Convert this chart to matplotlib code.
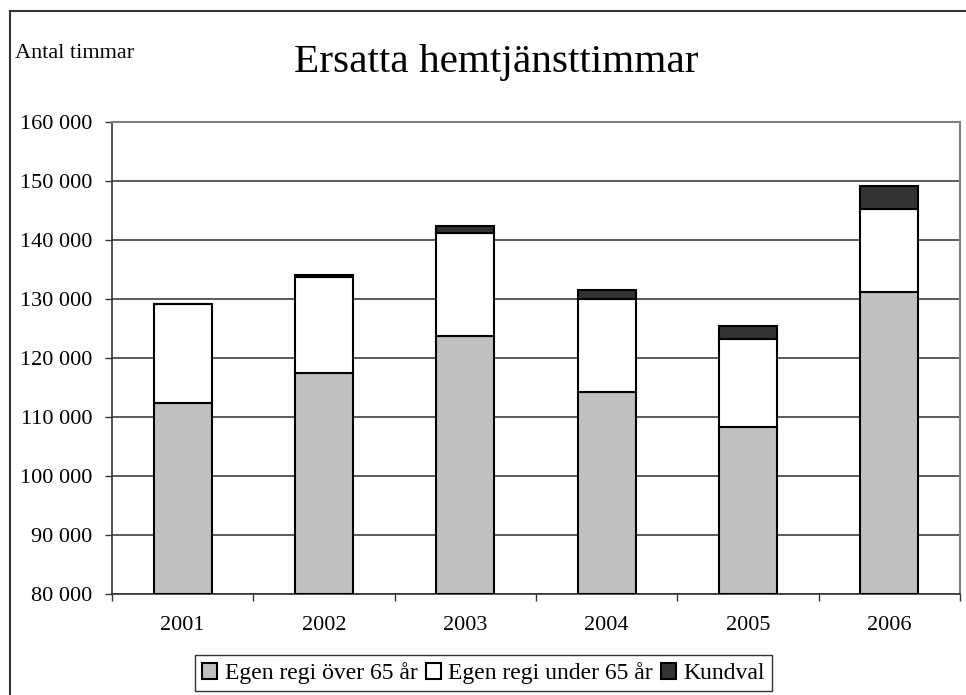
import matplotlib
matplotlib.use("Agg")
import matplotlib.pyplot as plt
from matplotlib.lines import Line2D
from matplotlib.ticker import FixedLocator, FuncFormatter
import numpy as np

years = ["2001", "2002", "2003", "2004", "2005", "2006"]
over65 = [112400, 117500, 123700, 114200, 108300, 131200]
under65 = [16700, 16200, 17500, 15800, 14950, 14100]
kundval = [0, 450, 1100, 1500, 2150, 3800]
series_names = ["Egen regi över 65 år", "Egen regi under 65 år", "Kundval"]
title = "Ersatta hemtjänsttimmar"
ylabel = "Antal timmar"

plt.rcParams["font.family"] = ["Liberation Serif", "DejaVu Serif"]

W, H = 966, 695
fig = plt.figure(figsize=(W / 100, H / 100), dpi=100)
ax = fig.add_axes([112 / W, (H - 594) / H, (960 - 112) / W, (594 - 122) / H])

x = np.arange(len(years))
bw = 0.41
base = np.full(len(years), 80000.0)
ov = np.array(over65, float)
un = np.array(under65, float)
kv = np.array(kundval, float)
colors = ["#c0c0c0", "#ffffff", "#333333"]
ax.bar(x, ov - 80000, bw, bottom=base, color=colors[0], edgecolor="black", linewidth=1.5, zorder=3, label=series_names[0])
ax.bar(x, un, bw, bottom=ov, color=colors[1], edgecolor="black", linewidth=1.5, zorder=3, label=series_names[1])
ax.bar(x, kv, bw, bottom=ov + un, color=colors[2], edgecolor="black", linewidth=1.5, zorder=3, label=series_names[2])

ax.set_xlim(-0.5, len(years) - 0.5)
ax.set_ylim(80000, 160000)
ax.yaxis.set_major_locator(FixedLocator(np.arange(80000, 160001, 10000)))
ax.yaxis.set_major_formatter(FuncFormatter(lambda v, p: f"{int(v):,}".replace(",", " ")))
ax.set_xticks(x)
ax.set_xticklabels(years)
ax.xaxis.set_minor_locator(FixedLocator(np.arange(-0.5, len(years), 1.0)))
ax.tick_params(axis="x", which="major", length=0, labelsize=16, pad=16)
ax.tick_params(axis="x", which="minor", length=5, width=1, direction="out", color="#333333")
ax.tick_params(axis="y", length=5, width=1, direction="out", labelsize=16, pad=9, color="#333333")
ax.grid(axis="y", color="#404040", linewidth=1.2, zorder=1)
ax.set_axisbelow(True)
for s in ["top", "right"]:
    ax.spines[s].set_color("#808080")
    ax.spines[s].set_linewidth(1.5)
for s in ["left", "bottom"]:
    ax.spines[s].set_color("#333333")
    ax.spines[s].set_linewidth(1.2)

fig.text(496 / W, (H - 72) / H, title, ha="center", va="baseline", fontsize=29.7)
fig.text(15 / W, (H - 58) / H, ylabel, ha="left", va="baseline", fontsize=16)

# outer chart border
fig.add_artist(Line2D([10 / W, 1.0], [(H - 11) / H, (H - 11) / H], transform=fig.transFigure, color="#333333", linewidth=1.5))
fig.add_artist(Line2D([10 / W, 10 / W], [0, (H - 11) / H], transform=fig.transFigure, color="#333333", linewidth=1.5))

leg = fig.legend(loc="upper left", bbox_to_anchor=(195 / W, (H - 655) / H), ncol=3, fontsize=17,
                 frameon=True, fancybox=False, edgecolor="black", handlelength=0.65, handleheight=0.65,
                 handletextpad=0.3, columnspacing=0.35, borderpad=0.3, borderaxespad=0)
leg.get_frame().set_linewidth(1.0)

fig.savefig("out.png", dpi=100)
